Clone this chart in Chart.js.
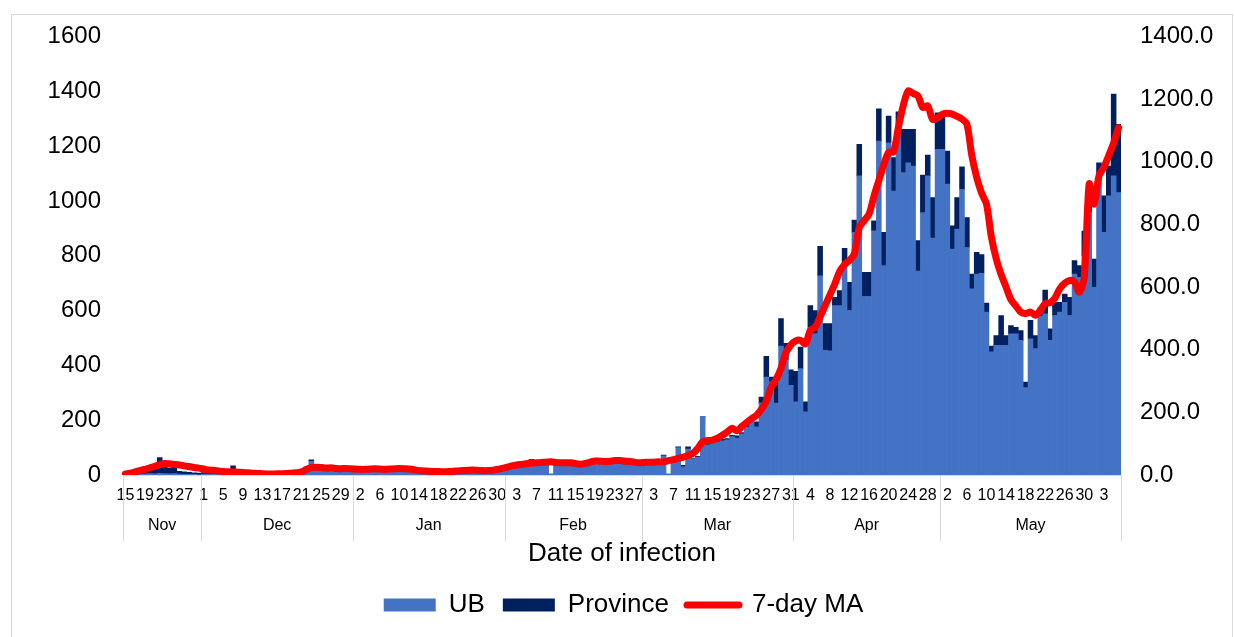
<!DOCTYPE html>
<html>
<head>
<meta charset="utf-8">
<title>Date of infection</title>
<script src="https://cdn.jsdelivr.net/npm/chart.js@4.4.0/dist/chart.umd.min.js"></script>
<style>
  html, body { margin: 0; padding: 0; background: #fff; }
  #wrap { position: relative; width: 1235px; height: 637px; overflow: hidden; }
  #frame { position: absolute; left: 11px; top: 14px; width: 1222px; height: 640px; border: 1px solid #d9d9d9; box-sizing: border-box; }
  #chart { position: absolute; left: 0; top: 0; }
</style>
</head>
<body>
<div id="wrap">
  <div id="frame"></div>
  <canvas id="chart" width="1235" height="637"></canvas>
</div>
<script>
// days shown on the axis, month by month (Nov 15 -> Jun 6)
const periods = [
  { month: 'Nov', from: 15, to: 30 },
  { month: 'Dec', from: 1, to: 31 },
  { month: 'Jan', from: 1, to: 31 },
  { month: 'Feb', from: 1, to: 28 },
  { month: 'Mar', from: 1, to: 31 },
  { month: 'Apr', from: 1, to: 30 },
  { month: 'May', from: 1, to: 31 },
  { month: 'Jun', from: 1, to: 6 }
];
// second row of the axis (June days sit under "May" in the original)
const groupNames = ['Nov', 'Dec', 'Jan', 'Feb', 'Mar', 'Apr', 'May'];
const groupSizes = [16, 31, 31, 28, 31, 30, 37];

const ub = [
  0, 1, 2, 3, 4, 5, 4, 6, 5, 4, 5, 3, 2, 2, 2, 1,
  3, 2, 3, 2, 3, 2, 4, 3, 2, 3, 2, 2, 1, 2, 1, 1, 2, 2, 3, 8, 15, 26, 50, 20, 18, 16, 17, 18, 16, 18, 15,
  14, 15, 16, 17, 18, 15, 16, 17, 18, 16, 14, 12, 10, 9, 10, 8, 9, 10, 11, 12, 13, 14, 13, 12, 11, 13, 16, 20, 24, 27, 28,
  30, 32, 35, 38, 36, 54, 40, 42, 38, 3, 40, 38, 42, 36, 30, 38, 44, 46, 45, 48, 46, 42, 44, 40, 38, 36, 35, 34,
  35, 38, 36, 40, 70, 3, 45, 100, 30, 95, 60, 65, 214, 110, 115, 120, 125, 128, 140, 135, 150, 175, 200, 176, 262, 357, 340, 262, 470, 420, 327,
  267, 388, 230, 539, 516, 727, 455, 453, 618, 618, 776, 600, 885, 1091, 651, 651, 891, 1218, 764, 1212, 1036, 1261, 1103, 1139, 1127, 744, 957, 1091, 864, 1188,
  1188, 1061, 824, 897, 1042, 830, 679, 733, 736, 594, 449, 473, 473, 473, 515, 515, 491, 319, 497, 461, 580, 588, 491, 582, 594, 630, 582, 733, 721, 800, 960,
  685, 1091, 885, 1018, 1091, 1030
];

const province = [
  2, 4, 8, 22, 26, 28, 27, 58, 30, 22, 25, 10, 10, 8, 6, 6,
  6, 6, 5, 6, 4, 5, 29, 5, 4, 4, 3, 3, 2, 3, 2, 2, 2, 2, 2, 3, 4, 4, 5, 4, 4, 4, 3, 4, 3, 4, 4,
  3, 4, 3, 3, 3, 4, 3, 3, 4, 3, 3, 3, 2, 2, 2, 2, 2, 2, 2, 2, 2, 2, 2, 2, 3, 2, 3, 2, 3, 2, 3,
  3, 2, 3, 2, 3, 3, 2, 3, 2, 0, 3, 2, 3, 2, 2, 3, 3, 2, 3, 2, 3, 2, 3, 2, 3, 2, 3, 2,
  3, 2, 3, 2, 3, 0, 3, 3, 5, 8, 2, 3, 0, 3, 5, 5, 5, 5, 5, 8, 5, 10, 8, 18, 22, 76, 17, 72, 101, 60, 57,
  111, 79, 37, 79, 84, 107, 97, 99, 30, 55, 51, 103, 45, 115, 88, 88, 36, 118, 121, 97, 122, 64, 158, 122, 134, 111, 137, 76, 148, 133,
  133, 121, 85, 115, 82, 109, 54, 79, 68, 33, 21, 36, 109, 36, 30, 24, 36, 20, 67, 48, 30, 87, 42, 48, 36, 30, 66, 49, 43, 90, 40,
  103, 48, 133, 109, 299, 249
];

const movingAvg = [
  3, 6, 10, 14, 18, 23, 28, 33, 37, 36, 34, 32, 29, 27, 24, 22,
  19, 16, 15, 13, 11, 10, 10, 9, 8, 7, 6, 5, 4, 3, 3, 4, 4, 5, 6, 7, 10, 18, 24, 25, 24, 22, 23, 21, 20, 21, 20,
  19, 18, 18, 19, 20, 19, 18, 19, 20, 21, 20, 19, 17, 14, 13, 12, 11, 11, 10, 11, 12, 13, 14, 15, 16, 15, 14, 14, 15, 18, 21,
  25, 29, 32, 34, 36, 38, 39, 40, 41, 42, 40, 39, 39, 39, 37, 34, 37, 41, 45, 44, 43, 44, 46, 46, 45, 43, 41, 39,
  40, 41, 41, 42, 42, 46, 49, 53, 57, 62, 69, 85, 106, 110, 111, 118, 127, 137, 149, 141, 155, 168, 180, 191, 210, 235, 280, 305, 340, 390, 415,
  428, 430, 419, 462, 472, 505, 540, 575, 610, 650, 672, 685, 706, 790, 812, 833, 890, 940, 990, 1030, 1032, 1110, 1180, 1226, 1218, 1210, 1173, 1178, 1135, 1140,
  1152, 1155, 1152, 1145, 1136, 1120, 1020, 950, 900, 865, 760, 690, 640, 600, 560, 540, 520, 515, 520, 510, 525, 547, 550, 565, 595, 612, 621, 616, 584, 632, 929,
  865, 955, 982, 1020, 1060, 1109
];

const dayLabels = [];
const fullLabels = [];
periods.forEach(p => {
  for (let d = p.from; d <= p.to; d++) {
    dayLabels.push(String(d));
    fullLabels.push(d + ' ' + p.month);
  }
});

const FONT = 'Arial, "Liberation Sans", sans-serif';
Chart.defaults.font.family = FONT;
Chart.defaults.color = '#000';

// month row under the day numbers, with the grey separators
const monthRow = {
  id: 'monthRow',
  afterDraw(chart) {
    const x = chart.scales.x;
    const ctx = chart.ctx;
    const half = (x.getPixelForValue(1) - x.getPixelForValue(0)) / 2;
    const edges = [];
    ctx.save();
    ctx.fillStyle = '#000';
    ctx.font = '16px ' + FONT;
    ctx.textAlign = 'center';
    ctx.textBaseline = 'middle';
    let start = 0;
    groupSizes.forEach((n, g) => {
      const left = x.getPixelForValue(start) - half;
      const right = x.getPixelForValue(start + n - 1) + half;
      if (g === 0) edges.push(left);
      edges.push(right);
      ctx.fillText(groupNames[g], (left + right) / 2, x.top + 51);
      start += n;
    });
    ctx.strokeStyle = '#d9d9d9';
    ctx.lineWidth = 1;
    edges.forEach(px => {
      const p = Math.round(px) + 0.5;
      ctx.beginPath();
      ctx.moveTo(p, x.top);
      ctx.lineTo(p, x.top + 66);
      ctx.stroke();
    });
    ctx.restore();
  }
};

const ctx = document.getElementById('chart').getContext('2d');
new Chart(ctx, {
  data: {
    labels: fullLabels,
    datasets: [
      { type: 'bar', label: 'UB', data: ub, backgroundColor: '#4472C4', yAxisID: 'y', barPercentage: 1, categoryPercentage: 1 },
      { type: 'bar', label: 'Province', data: province, backgroundColor: '#002060', yAxisID: 'y', barPercentage: 1, categoryPercentage: 1 },
      { type: 'line', label: '7-day MA', data: movingAvg, borderColor: '#FF0000', backgroundColor: '#FF0000', borderWidth: 7,
        pointRadius: 0, tension: 0.3, borderCapStyle: 'round', borderJoinStyle: 'round', yAxisID: 'y1', order: -1 }
    ]
  },
  options: {
    responsive: false,
    animation: false,
    layout: { padding: { left: 12, right: 0, top: 35, bottom: 9 } },
    scales: {
      x: {
        stacked: true,
        grid: { display: false },
        border: { display: true, color: '#d9d9d9' },
        ticks: {
          autoSkip: false, maxRotation: 0, minRotation: 0, padding: 3,
          font: { size: 16 },
          callback: (v, i) => (i % 4 === 0 ? dayLabels[i] : '')
        },
        title: { display: true, text: 'Date of infection', font: { size: 26 }, padding: { top: 0, bottom: 5 } },
        afterFit(s) { s.height = 99; }
      },
      y: {
        position: 'left', stacked: true, min: 0, max: 1600,
        ticks: { stepSize: 200, padding: 22, font: { size: 24 }, callback: v => String(v) },
        grid: { display: false, drawTicks: false },
        border: { display: false },
        afterFit(s) { s.width = 111; }
      },
      y1: {
        position: 'right', min: 0, max: 1400,
        ticks: { stepSize: 200, padding: 19, font: { size: 24 }, callback: v => v.toFixed(1) },
        grid: { display: false, drawTicks: false },
        border: { display: false },
        afterFit(s) { s.width = 114; }
      }
    },
    plugins: {
      tooltip: { enabled: false },
      legend: {
        position: 'bottom',
        labels: {
          usePointStyle: true, pointStyleWidth: 52, boxHeight: 13, padding: 18,
          font: { size: 26 }, color: '#000',
          generateLabels(chart) {
            const items = Chart.defaults.plugins.legend.labels.generateLabels(chart);
            items.sort((a, b) => a.datasetIndex - b.datasetIndex);
            items.forEach(it => {
              const ds = chart.data.datasets[it.datasetIndex];
              if (ds.type === 'line') {
                it.pointStyle = 'line'; it.lineWidth = 7; it.strokeStyle = ds.borderColor; it.lineCap = 'round';
              } else {
                it.pointStyle = 'rect'; it.lineWidth = 0; it.strokeStyle = ds.backgroundColor;
              }
            });
            return items;
          }
        }
      }
    }
  },
  plugins: [monthRow]
});
</script>
</body>
</html>
